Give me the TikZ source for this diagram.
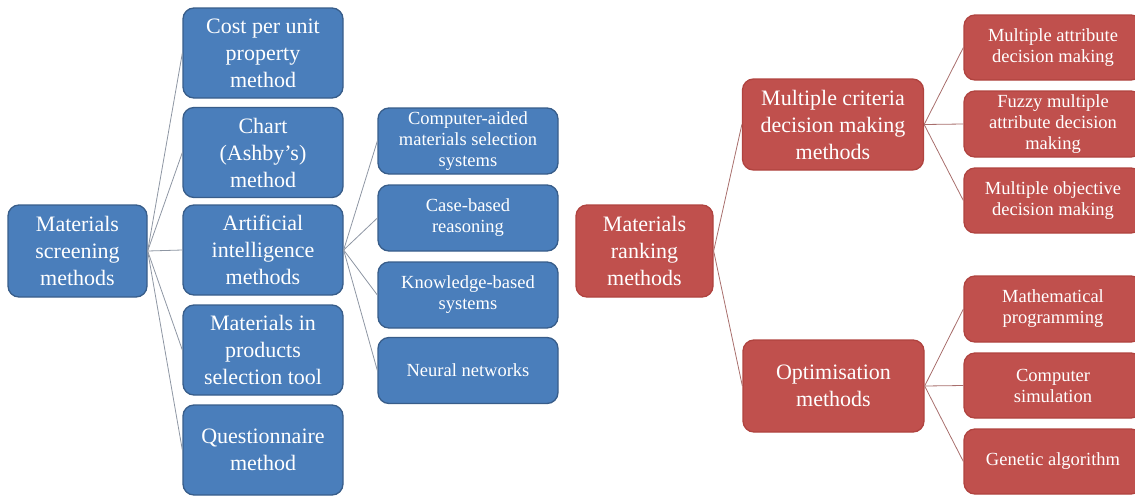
\documentclass[tikz,border=0pt]{standalone}
\usepackage{fontspec}
\setmainfont{Liberation Serif}
\definecolor{bfill}{HTML}{4A7EBB}
\definecolor{bdraw}{HTML}{385D8A}
\definecolor{rfill}{HTML}{C0504D}
\definecolor{rdraw}{HTML}{B0433F}
\definecolor{lineb}{HTML}{8E96A3}
\definecolor{liner}{HTML}{A86E6C}
\begin{document}
\begin{tikzpicture}[x=1pt,y=-1pt,
  box/.style={rounded corners=11pt, text=white, align=center, inner sep=2pt, line width=1.3pt},
  bigbox/.style={box, font=\fontsize{22}{27}\selectfont},
  smallbox/.style={box, font=\fontsize{18.5}{21}\selectfont},
  blue/.style={fill=bfill, draw=bdraw},
  red/.style={fill=rfill, draw=rdraw},
  bl/.style={draw=lineb, line width=0.8pt},
  rl/.style={draw=liner, line width=0.8pt}]
\useasboundingbox (0,0) rectangle (1135,496);
\clip (0,0) rectangle (1135,496);
% blue side
\node[bigbox,blue,minimum width=139,minimum height=92] (scr) at (77.5,251) {Materials\\screening\\methods};
\node[bigbox,blue,minimum width=160,minimum height=90] (cost) at (263,53) {Cost per unit\\property\\method};
\node[bigbox,blue,minimum width=160,minimum height=90] (chart) at (263,152.5) {Chart\\(Ashby’s)\\method};
\node[bigbox,blue,minimum width=160,minimum height=90] (ai) at (263,250) {Artificial\\intelligence\\methods};
\node[bigbox,blue,minimum width=160,minimum height=90] (mip) at (263,350) {Materials in\\products\\selection tool};
\node[bigbox,blue,minimum width=160,minimum height=90] (quest) at (263,450) {Questionnaire\\method};
\node[smallbox,blue,minimum width=180,minimum height=66] (cams) at (468,141) {Computer-aided\\materials selection\\systems};
\node[smallbox,blue,minimum width=180,minimum height=66] (cbr) at (468,218) {Case-based\\reasoning};
\node[smallbox,blue,minimum width=180,minimum height=66] (kbs) at (468,295) {Knowledge-based\\systems};
\node[smallbox,blue,minimum width=180,minimum height=66] (nn) at (468,370.5) {Neural networks};
% red side
\node[bigbox,red,minimum width=137,minimum height=92] (rank) at (644.5,251) {Materials\\ranking\\methods};
\node[bigbox,red,minimum width=181,minimum height=91] (mcdm) at (833,124.5) {Multiple criteria\\decision making\\methods};
\node[bigbox,red,minimum width=181,minimum height=92] (opt) at (833.5,386) {Optimisation\\methods};
\node[smallbox,red,minimum width=178,minimum height=65] (mad) at (1053,47.5) {Multiple attribute\\decision making};
\node[smallbox,red,minimum width=178,minimum height=66] (fmad) at (1053,124) {Fuzzy multiple\\attribute decision\\making};
\node[smallbox,red,minimum width=178,minimum height=65] (mod) at (1053,200.5) {Multiple objective\\decision making};
\node[smallbox,red,minimum width=178,minimum height=66] (mp) at (1053,309) {Mathematical\\programming};
\node[smallbox,red,minimum width=178,minimum height=65] (cs) at (1053,385.5) {Computer\\simulation};
\node[smallbox,red,minimum width=178,minimum height=65] (ga) at (1053,461.5) {Genetic algorithm};
% connectors
\foreach \t in {cost,chart,ai,mip,quest} \draw[bl] (scr.east) -- (\t.west);
\foreach \t in {cams,cbr,kbs,nn} \draw[bl] (ai.east) -- (\t.west);
\foreach \t in {mcdm,opt} \draw[rl] (rank.east) -- (\t.west);
\foreach \t in {mad,fmad,mod} \draw[rl] (mcdm.east) -- (\t.west);
\foreach \t in {mp,cs,ga} \draw[rl] (opt.east) -- (\t.west);
\end{tikzpicture}
\end{document}
